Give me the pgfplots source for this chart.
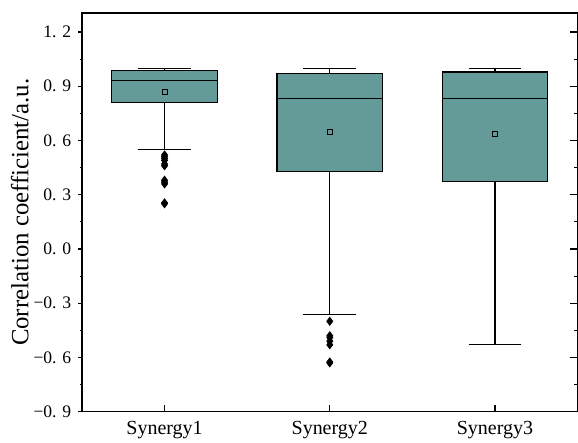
\documentclass[border=0pt]{standalone}
\usepackage{fontspec}
\setmainfont{Liberation Serif}
\usepackage{pgfplots}
\pgfplotsset{compat=1.18}
\usepgfplotslibrary{statistics}
\definecolor{boxc}{RGB}{100,154,152}
\begin{document}
\begin{tikzpicture}
\pgfplotsset{
  common/.style={
    scale only axis, width=248pt, height=199.5pt,
    xmin=0.5, xmax=3.5, ymin=-0.9, ymax=1.305,
    ytick={-0.9,-0.6,-0.3,0,0.3,0.6,0.9,1.2},
    minor y tick num=1,
    axis line style={line width=0.65pt},
    every tick/.style={black, line width=0.55pt},
  }
}
\begin{axis}[common,
  name=ax,
  tick align=inside,
  xtick={1,2,3},
  xticklabels={Synergy1,Synergy2,Synergy3},
  xtick pos=bottom,
  ytick pos=right,
  yticklabels={},
  major tick length=3.6pt, minor tick length=1.8pt,
  x tick label style={font=\fontsize{10}{12}\selectfont, yshift=-1pt},
  boxplot/draw direction=y,
  boxplot/box extend=0.64,
  boxplot/whisker extend=0.32,
]
\addplot[boxplot prepared={draw position=1, lower whisker=0.552, lower quartile=0.81, median=0.933, upper quartile=0.988, upper whisker=1.0},
  draw=black, line width=0.6pt, fill=boxc, mark=diamond*, mark size=2pt, mark options={fill=black, draw=black, line width=0.4pt}]
  coordinates {(0,0.52) (0,0.51) (0,0.50) (0,0.49) (0,0.47) (0,0.46) (0,0.38) (0,0.37) (0,0.36) (0,0.255) (0,0.25)};
\addplot[boxplot prepared={draw position=2, lower whisker=-0.362, lower quartile=0.428, median=0.83, upper quartile=0.97, upper whisker=1.0},
  draw=black, line width=0.6pt, fill=boxc, mark=diamond*, mark size=2pt, mark options={fill=black, draw=black, line width=0.4pt}]
  coordinates {(0,-0.40) (0,-0.48) (0,-0.49) (0,-0.51) (0,-0.53) (0,-0.625) (0,-0.63)};
\addplot[boxplot prepared={draw position=3, lower whisker=-0.53, lower quartile=0.373, median=0.83, upper quartile=0.979, upper whisker=1.0},
  draw=black, line width=0.6pt, fill=boxc]
  coordinates {};
\addplot[only marks, mark=square, mark size=1.25pt, mark options={draw=black, line width=0.5pt}]
  coordinates {(1,0.87) (2,0.649) (3,0.635)};
\coordinate (sw) at (rel axis cs:0,0);
\coordinate (ne) at (rel axis cs:1,1);
\end{axis}
\begin{axis}[common,
  axis x line=none,
  axis y line*=left,
  tick align=outside,
  ytick pos=left,
  major tick length=1.8pt, minor tick length=1pt,
  yticklabels={−0.\,\,9,−0.\,\,6,−0.\,\,3,0.\,\,0,0.\,\,3,0.\,\,6,0.\,\,9,1.\,\,2},
  y tick label style={font=\fontsize{8.8}{10}\selectfont},
  ylabel={Correlation coefficient/a.u.},
  ylabel style={font=\fontsize{12.4}{14}\selectfont, yshift=-4.5pt},
]
\end{axis}
\pgfresetboundingbox
\path ([shift={(-41pt,-15.5pt)}]sw) rectangle ([shift={(0.2pt,6.5pt)}]ne);
\end{tikzpicture}
\end{document}
